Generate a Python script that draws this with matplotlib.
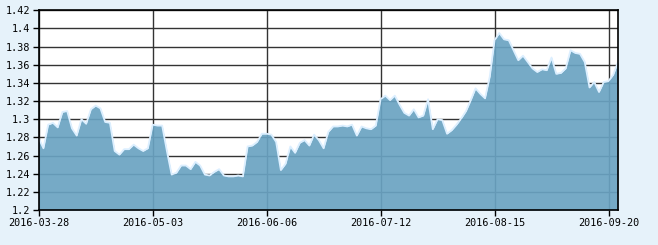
import matplotlib
matplotlib.use("Agg")
import matplotlib.pyplot as plt
import numpy as np

# daily values, one per trading day starting 2016-03-28
values = [
    1.279, 1.268, 1.294, 1.296, 1.291, 1.308, 1.309, 1.290, 1.282, 1.300,
    1.295, 1.311, 1.315, 1.312, 1.297, 1.296, 1.265, 1.261, 1.267, 1.267,
    1.272, 1.268, 1.265, 1.268, 1.294, 1.293, 1.293, 1.265, 1.239, 1.241,
    1.249, 1.249, 1.245, 1.253, 1.249, 1.239, 1.238, 1.242, 1.245, 1.238,
    1.237, 1.237, 1.238, 1.237, 1.270, 1.271, 1.275, 1.284, 1.284, 1.283,
    1.275, 1.244, 1.251, 1.270, 1.263, 1.274, 1.277, 1.271, 1.283, 1.277,
    1.268, 1.286, 1.292, 1.292, 1.293, 1.292, 1.294, 1.282, 1.292, 1.290,
    1.289, 1.293, 1.322, 1.326, 1.321, 1.326, 1.316, 1.307, 1.304, 1.311,
    1.302, 1.304, 1.322, 1.289, 1.300, 1.299, 1.284, 1.288, 1.294, 1.301,
    1.309, 1.321, 1.334, 1.328, 1.323, 1.347, 1.387, 1.395, 1.388, 1.387,
    1.376, 1.365, 1.370, 1.363, 1.356, 1.352, 1.355, 1.354, 1.368, 1.350,
    1.351, 1.356, 1.376, 1.373, 1.372, 1.363, 1.335, 1.341, 1.330, 1.341,
    1.342, 1.349, 1.363,
]
tick_index = [0, 24, 48, 72, 96, 120]
tick_labels = ["2016-03-28", "2016-05-03", "2016-06-06",
               "2016-07-12", "2016-08-15", "2016-09-20"]
y_ticks = [1.2, 1.22, 1.24, 1.26, 1.28, 1.3, 1.32, 1.34, 1.36, 1.38, 1.4, 1.42]

x = np.arange(len(values))

fig = plt.figure(figsize=(6.58, 2.45), dpi=100)
fig.patch.set_facecolor("#e6f2fa")
ax = fig.add_axes([38.7 / 658, 35 / 245, (618 - 38.7) / 658, (210 - 10.3) / 245])
ax.set_facecolor("white")

ax.fill_between(x, 1.2, values, color="#6aa3c2", alpha=0.92, lw=0, zorder=3)
ax.plot(x, values, color="#dcefff", lw=1.3, zorder=4)

ax.set_xlim(0, len(values) - 1)
ax.set_ylim(1.2, 1.42)
ax.set_xticks(tick_index)
ax.set_xticklabels(tick_labels)
ax.set_yticks(y_ticks)
ax.set_yticklabels([("%.2f" % v).rstrip("0").rstrip(".") if v != 1.2 else "1.2" for v in y_ticks])

ax.grid(True, color="#333333", lw=1.0, zorder=1)
ax.set_axisbelow(True)
for s in ax.spines.values():
    s.set_color("black")
    s.set_linewidth(1.2)
    s.set_zorder(5)

ax.tick_params(axis="both", direction="out", length=4, width=1, color="black",
               labelsize=7.3, pad=2)
for lab in ax.get_xticklabels() + ax.get_yticklabels():
    lab.set_family("DejaVu Sans Mono")

fig.savefig("out.png", dpi=100, facecolor=fig.get_facecolor())
